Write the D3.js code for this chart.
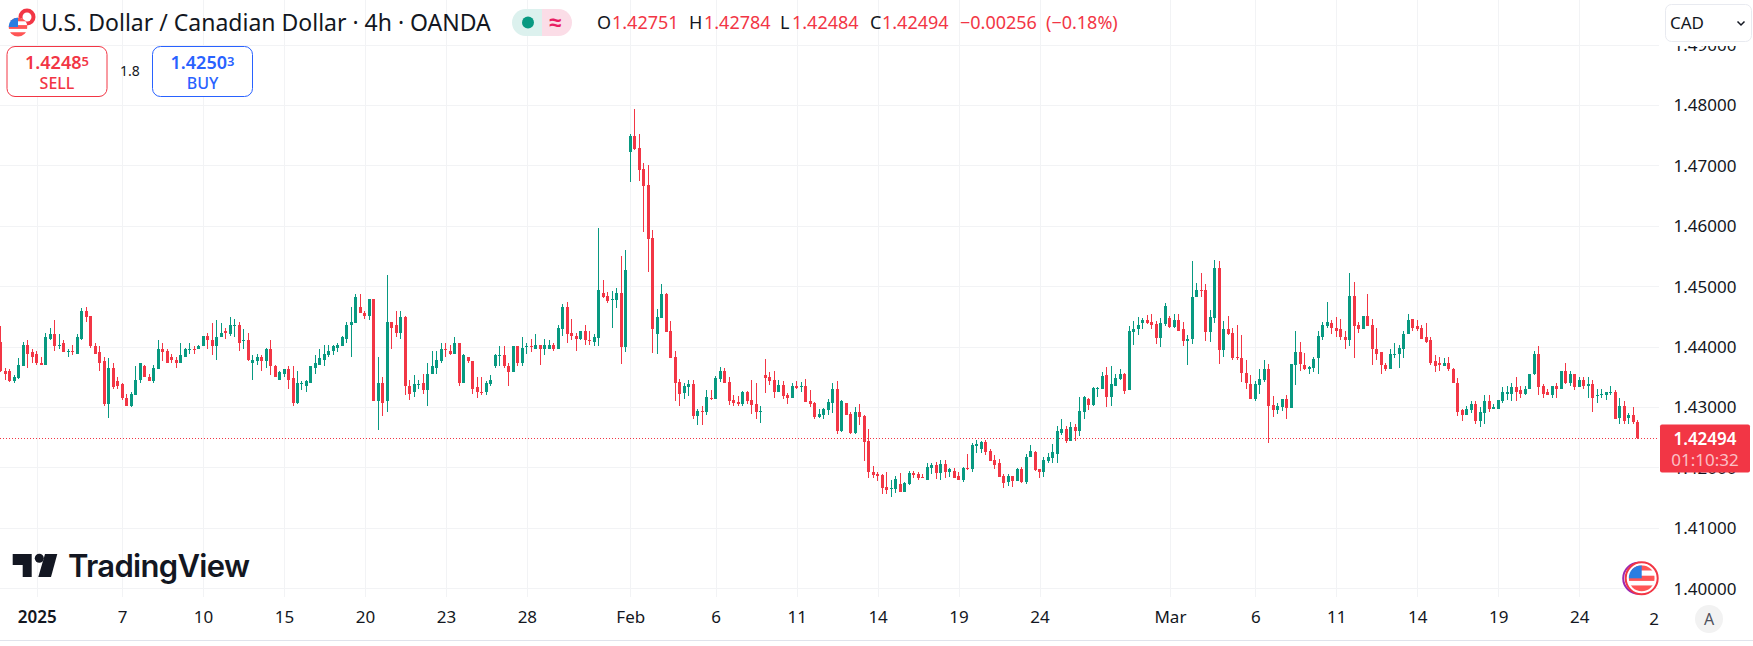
<!DOCTYPE html>
<html>
<head>
<meta charset="utf-8">
<script src="https://cdnjs.cloudflare.com/ajax/libs/d3/7.8.5/d3.min.js"></script>
<style>
html, body { margin: 0; padding: 0; background: #fff; }
svg { display: block; }
text { font-family: "Noto Sans", sans-serif; fill: #131722; }
</style>
</head>
<body>
<div id="chart"></div>
<script>
// candles, oldest first
var highs = [
1.4435,1.4366,1.4363,1.4353,1.4381,1.4409,1.4411,1.4397,1.4393,1.4383,1.4424,1.4432,1.4444,1.4422,1.4412,1.4397,1.4404,1.4421,1.4464,1.4466,
1.4452,1.4407,1.4401,1.4383,1.4381,1.4374,1.4351,1.4340,1.4323,1.4325,1.4368,1.4373,1.4371,1.4355,1.4371,1.4411,1.4407,1.4396,1.4388,1.4383,
1.4407,1.4399,1.4406,1.4402,1.4404,1.4419,1.4424,1.4439,1.4444,1.4439,1.4431,1.4449,1.4446,1.4442,1.4429,1.4424,1.4386,1.4389,1.4386,1.4399,
1.4412,1.4371,1.4360,1.4364,1.4368,1.4368,1.4360,1.4343,1.4345,1.4369,1.4386,1.4396,1.4404,1.4404,1.4404,1.4407,1.4419,1.4442,1.4466,1.4487,
1.4487,1.4459,1.4480,1.4479,1.4384,1.4351,1.4520,1.4442,1.4459,1.4459,1.4451,1.4346,1.4353,1.4346,1.4356,1.4373,1.4393,1.4393,1.4406,1.4406,
1.4404,1.4416,1.4406,1.4388,1.4384,1.4376,1.4351,1.4351,1.4343,1.4353,1.4388,1.4402,1.4402,1.4373,1.4401,1.4402,1.4417,1.4407,1.4414,1.4422,
1.4404,1.4414,1.4411,1.4406,1.4436,1.4472,1.4474,1.4447,1.4424,1.4427,1.4437,1.4426,1.4422,1.4597,1.4511,1.4491,1.4493,1.4498,1.4551,1.4561,
1.4753,1.4794,1.4753,1.4705,1.4701,1.4594,1.4463,1.4504,1.4489,1.4443,1.4393,1.4347,1.4340,1.4345,1.4345,1.4297,1.4302,1.4329,1.4329,1.4352,
1.4367,1.4365,1.4350,1.4320,1.4319,1.4327,1.4327,1.4345,1.4340,1.4302,1.4380,1.4359,1.4360,1.4345,1.4344,1.4324,1.4340,1.4344,1.4342,1.4347,
1.4329,1.4309,1.4297,1.4299,1.4314,1.4340,1.4344,1.4312,1.4307,1.4292,1.4301,1.4306,1.4287,1.4264,1.4203,1.4193,1.4190,1.4193,1.4180,1.4186,
1.4191,1.4176,1.4195,1.4195,1.4193,1.4190,1.4208,1.4208,1.4210,1.4213,1.4213,1.4200,1.4200,1.4193,1.4201,1.4223,1.4241,1.4246,1.4244,1.4246,
1.4231,1.4221,1.4214,1.4190,1.4190,1.4186,1.4200,1.4201,1.4223,1.4238,1.4228,1.4198,1.4218,1.4224,1.4239,1.4269,1.4281,1.4269,1.4276,1.4272,
1.4317,1.4319,1.4316,1.4334,1.4334,1.4359,1.4367,1.4369,1.4355,1.4364,1.4357,1.4435,1.4443,1.4450,1.4448,1.4453,1.4455,1.4443,1.4448,1.4473,
1.4452,1.4455,1.4455,1.4442,1.4420,1.4543,1.4506,1.4523,1.4505,1.4462,1.4544,1.4543,1.4443,1.4452,1.4432,1.4437,1.4420,1.4379,1.4354,1.4344,
1.4364,1.4379,1.4372,1.4319,1.4308,1.4314,1.4321,1.4372,1.4427,1.4409,1.4390,1.4369,1.4384,1.4426,1.4442,1.4474,1.4444,1.4449,1.4447,1.4427,
1.4523,1.4507,1.4441,1.4452,1.4487,1.4446,1.4432,1.4391,1.4374,1.4396,1.4406,1.4404,1.4426,1.4454,1.4447,1.4444,1.4436,1.4439,1.4416,1.4386,
1.4384,1.4381,1.4383,1.4366,1.4348,1.4297,1.4302,1.4310,1.4310,1.4300,1.4321,1.4320,1.4305,1.4313,1.4333,1.4336,1.4340,1.4351,1.4335,1.4336,
1.4356,1.4393,1.4402,1.4338,1.4330,1.4336,1.4340,1.4360,1.4374,1.4361,1.4356,1.4351,1.4351,1.4350,1.4346,1.4330,1.4330,1.4326,1.4335,1.4328,
1.4316,1.4310,1.4290,1.4300,1.42784
];
var lows = [
1.4358,1.4346,1.4342,1.4340,1.4347,1.4368,1.4366,1.4373,1.4371,1.4371,1.4371,1.4411,1.4394,1.4397,1.4391,1.4384,1.4386,1.4389,1.4411,1.4442,
1.4399,1.4389,1.4360,1.4302,1.4282,1.4330,1.4331,1.4313,1.4303,1.4300,1.4320,1.4340,1.4350,1.4343,1.4341,1.4364,1.4376,1.4374,1.4374,1.4366,
1.4373,1.4383,1.4389,1.4389,1.4396,1.4401,1.4396,1.4386,1.4378,1.4416,1.4414,1.4419,1.4416,1.4394,1.4397,1.4376,1.4345,1.4371,1.4360,1.4366,
1.4353,1.4350,1.4346,1.4350,1.4331,1.4303,1.4305,1.4328,1.4325,1.4341,1.4355,1.4371,1.4369,1.4384,1.4386,1.4391,1.4402,1.4407,1.4384,1.4439,
1.4456,1.4446,1.4444,1.4311,1.4263,1.4285,1.4292,1.4396,1.4417,1.4414,1.4320,1.4313,1.4318,1.4330,1.4323,1.4303,1.4355,1.4355,1.4374,1.4384,
1.4386,1.4388,1.4336,1.4340,1.4374,1.4323,1.4316,1.4321,1.4320,1.4336,1.4366,1.4368,1.4366,1.4335,1.4358,1.4368,1.4369,1.4389,1.4391,1.4396,
1.4371,1.4386,1.4396,1.4394,1.4396,1.4419,1.4406,1.4412,1.4394,1.4412,1.4404,1.4404,1.4401,1.4402,1.4481,1.4473,1.4431,1.4465,1.4372,1.4392,
1.4673,1.4726,1.4675,1.4590,1.4524,1.4390,1.4388,1.4448,1.4425,1.4382,1.4311,1.4302,1.4314,1.4319,1.4281,1.4271,1.4271,1.4287,1.4312,1.4314,
1.4342,1.4340,1.4304,1.4302,1.4302,1.4302,1.4306,1.4289,1.4281,1.4274,1.4324,1.4337,1.4316,1.4325,1.4314,1.4306,1.4316,1.4330,1.4325,1.4309,
1.4301,1.4281,1.4282,1.4281,1.4287,1.4291,1.4256,1.4259,1.4287,1.4256,1.4256,1.4271,1.4211,1.4183,1.4183,1.4178,1.4157,1.4157,1.4152,1.4158,
1.4160,1.4160,1.4171,1.4183,1.4180,1.4183,1.4180,1.4190,1.4181,1.4180,1.4183,1.4185,1.4183,1.4180,1.4176,1.4196,1.4193,1.4224,1.4224,1.4221,
1.4211,1.4198,1.4185,1.4166,1.4170,1.4168,1.4178,1.4175,1.4173,1.4218,1.4195,1.4183,1.4185,1.4208,1.4208,1.4208,1.4254,1.4241,1.4244,1.4244,
1.4253,1.4281,1.4296,1.4302,1.4317,1.4330,1.4301,1.4302,1.4335,1.4345,1.4322,1.4328,1.4404,1.4420,1.4430,1.4438,1.4430,1.4405,1.4400,1.4435,
1.4432,1.4432,1.4427,1.4402,1.4371,1.4405,1.4482,1.4482,1.4410,1.4409,1.4440,1.4372,1.4384,1.4420,1.4379,1.4379,1.4342,1.4331,1.4314,1.4311,
1.4323,1.4342,1.4241,1.4284,1.4289,1.4294,1.4281,1.4299,1.4337,1.4361,1.4362,1.4356,1.4359,1.4355,1.4411,1.4432,1.4422,1.4417,1.4411,1.4396,
1.4402,1.4381,1.4424,1.4429,1.4434,1.4371,1.4378,1.4355,1.4361,1.4363,1.4381,1.4366,1.4381,1.4421,1.4427,1.4427,1.4414,1.4407,1.4371,1.4358,
1.4360,1.4368,1.4361,1.4340,1.4285,1.4277,1.4287,1.4290,1.4272,1.4267,1.4273,1.4293,1.4297,1.4298,1.4308,1.4313,1.4311,1.4310,1.4316,1.4321,
1.4330,1.4353,1.4320,1.4315,1.4320,1.4316,1.4315,1.4330,1.4338,1.4335,1.4328,1.4333,1.4330,1.4316,1.4292,1.4308,1.4315,1.4313,1.4320,1.4280,
1.4272,1.4273,1.4273,1.4272,1.42484
];
var opens = [
1.4409,1.4361,1.4360,1.4343,1.4348,1.4369,1.4404,1.4391,1.4388,1.4374,1.4371,1.4414,1.4422,1.4403,1.4406,1.4393,1.4394,1.4389,1.4414,1.4459,
1.4451,1.4402,1.4391,1.4376,1.4305,1.4366,1.4343,1.4338,1.4316,1.4303,1.4321,1.4345,1.4368,1.4351,1.4343,1.4364,1.4396,1.4393,1.4383,1.4379,
1.4374,1.4384,1.4396,1.4397,1.4396,1.4401,1.4419,1.4412,1.4402,1.4416,1.4426,1.4422,1.4436,1.4437,1.4410,1.4411,1.4373,1.4376,1.4384,1.4376,
1.4397,1.4369,1.4346,1.4356,1.4364,1.4348,1.4308,1.4338,1.4335,1.4341,1.4366,1.4371,1.4379,1.4386,1.4393,1.4399,1.4402,1.4414,1.4436,1.4439,
1.4466,1.4457,1.4451,1.4479,1.4311,1.4340,1.4310,1.4442,1.4436,1.4424,1.4449,1.4336,1.4326,1.4337,1.4340,1.4328,1.4355,1.4366,1.4376,1.4396,
1.4394,1.4389,1.4406,1.4340,1.4383,1.4376,1.4333,1.4326,1.4325,1.4338,1.4368,1.4385,1.4386,1.4369,1.4358,1.4401,1.4374,1.4400,1.4401,1.4397,
1.4404,1.4397,1.4397,1.4404,1.4397,1.4429,1.4467,1.4424,1.4419,1.4414,1.4426,1.4412,1.4409,1.4415,1.4489,1.4484,1.4478,1.4478,1.4489,1.4400,
1.4723,1.4749,1.4730,1.4695,1.4668,1.4580,1.4421,1.4448,1.4488,1.4426,1.4383,1.4342,1.4324,1.4334,1.4339,1.4286,1.4294,1.4292,1.4316,1.4314,
1.4347,1.4360,1.4342,1.4312,1.4309,1.4306,1.4325,1.4312,1.4306,1.4293,1.4354,1.4350,1.4345,1.4325,1.4337,1.4320,1.4316,1.4335,1.4334,1.4335,
1.4311,1.4307,1.4284,1.4287,1.4296,1.4307,1.4330,1.4261,1.4307,1.4289,1.4258,1.4292,1.4286,1.4244,1.4193,1.4190,1.4188,1.4168,1.4165,1.4165,
1.4173,1.4160,1.4173,1.4191,1.4190,1.4185,1.4180,1.4200,1.4205,1.4191,1.4206,1.4193,1.4195,1.4186,1.4180,1.4200,1.4198,1.4236,1.4231,1.4243,
1.4228,1.4213,1.4208,1.4186,1.4176,1.4186,1.4178,1.4198,1.4176,1.4218,1.4226,1.4198,1.4193,1.4211,1.4216,1.4223,1.4258,1.4264,1.4244,1.4267,
1.4261,1.4292,1.4314,1.4304,1.4331,1.4330,1.4354,1.4317,1.4335,1.4347,1.4355,1.4328,1.4425,1.4429,1.4440,1.4445,1.4442,1.4438,1.4415,1.4438,
1.4448,1.4433,1.4445,1.4429,1.4410,1.4414,1.4482,1.4495,1.4494,1.4425,1.4448,1.4530,1.4395,1.4430,1.4424,1.4384,1.4382,1.4357,1.4339,1.4314,
1.4337,1.4346,1.4364,1.4304,1.4296,1.4301,1.4314,1.4299,1.4371,1.4392,1.4371,1.4364,1.4366,1.4381,1.4417,1.4434,1.4439,1.4432,1.4429,1.4417,
1.4412,1.4485,1.4437,1.4429,1.4452,1.4436,1.4397,1.4391,1.4371,1.4363,1.4388,1.4388,1.4397,1.4421,1.4446,1.4434,1.4431,1.4416,1.4411,1.4376,
1.4374,1.4369,1.4374,1.4364,1.4341,1.4295,1.4287,1.4295,1.4305,1.4278,1.4290,1.4311,1.4297,1.4298,1.4311,1.4323,1.4323,1.4333,1.4328,1.4323,
1.4330,1.4355,1.4388,1.4335,1.4325,1.4321,1.4335,1.4330,1.4360,1.4341,1.4356,1.4333,1.4346,1.4335,1.4338,1.4319,1.4322,1.4321,1.4325,1.4326,
1.4282,1.4302,1.4282,1.4288,1.42751
];
var closes = [
1.4360,1.4355,1.4343,1.4350,1.4371,1.4404,1.4389,1.4383,1.4373,1.4371,1.4416,1.4422,1.4402,1.4404,1.4391,1.4394,1.4391,1.4416,1.4459,1.4449,
1.4401,1.4389,1.4374,1.4305,1.4366,1.4333,1.4336,1.4315,1.4303,1.4323,1.4346,1.4373,1.4350,1.4343,1.4366,1.4396,1.4391,1.4374,1.4378,1.4374,
1.4386,1.4396,1.4397,1.4396,1.4402,1.4419,1.4411,1.4402,1.4417,1.4424,1.4424,1.4436,1.4437,1.4407,1.4411,1.4378,1.4378,1.4384,1.4376,1.4397,
1.4368,1.4350,1.4358,1.4364,1.4346,1.4308,1.4340,1.4341,1.4343,1.4369,1.4373,1.4381,1.4388,1.4394,1.4401,1.4404,1.4416,1.4437,1.4441,1.4482,
1.4456,1.4451,1.4479,1.4311,1.4340,1.4308,1.4442,1.4432,1.4424,1.4449,1.4335,1.4323,1.4338,1.4338,1.4328,1.4355,1.4368,1.4379,1.4396,1.4395,
1.4389,1.4406,1.4340,1.4386,1.4376,1.4331,1.4325,1.4325,1.4340,1.4345,1.4386,1.4386,1.4369,1.4358,1.4401,1.4374,1.4399,1.4401,1.4400,1.4404,
1.4397,1.4404,1.4404,1.4397,1.4431,1.4467,1.4421,1.4419,1.4414,1.4426,1.4411,1.4411,1.4417,1.4494,1.4483,1.4476,1.4479,1.4489,1.4400,1.4527,
1.4749,1.4728,1.4693,1.4667,1.4579,1.4430,1.4450,1.4488,1.4425,1.4382,1.4340,1.4322,1.4335,1.4339,1.4286,1.4294,1.4293,1.4317,1.4314,1.4349,
1.4360,1.4340,1.4311,1.4307,1.4306,1.4325,1.4311,1.4304,1.4292,1.4294,1.4349,1.4344,1.4325,1.4337,1.4319,1.4316,1.4335,1.4332,1.4335,1.4309,
1.4306,1.4284,1.4289,1.4297,1.4309,1.4330,1.4261,1.4311,1.4287,1.4258,1.4292,1.4284,1.4243,1.4193,1.4188,1.4186,1.4166,1.4163,1.4166,1.4181,
1.4160,1.4175,1.4191,1.4188,1.4183,1.4183,1.4201,1.4205,1.4191,1.4206,1.4193,1.4198,1.4183,1.4180,1.4200,1.4198,1.4238,1.4239,1.4243,1.4226,
1.4211,1.4205,1.4185,1.4175,1.4186,1.4178,1.4198,1.4176,1.4218,1.4228,1.4196,1.4193,1.4213,1.4218,1.4226,1.4261,1.4264,1.4244,1.4267,1.4261,
1.4294,1.4317,1.4304,1.4332,1.4332,1.4352,1.4317,1.4339,1.4349,1.4355,1.4327,1.4427,1.4430,1.4437,1.4445,1.4440,1.4437,1.4415,1.4440,1.4468,
1.4433,1.4445,1.4427,1.4410,1.4414,1.4482,1.4495,1.4494,1.4425,1.4450,1.4530,1.4395,1.4430,1.4422,1.4382,1.4382,1.4357,1.4341,1.4314,1.4339,
1.4347,1.4364,1.4303,1.4296,1.4303,1.4314,1.4299,1.4372,1.4392,1.4372,1.4364,1.4367,1.4380,1.4419,1.4436,1.4442,1.4431,1.4427,1.4416,1.4412,
1.4485,1.4434,1.4429,1.4452,1.4434,1.4397,1.4389,1.4371,1.4363,1.4389,1.4389,1.4399,1.4422,1.4444,1.4432,1.4429,1.4414,1.4409,1.4374,1.4369,
1.4371,1.4374,1.4363,1.4340,1.4293,1.4288,1.4297,1.4305,1.4278,1.4292,1.4311,1.4298,1.4300,1.4313,1.4325,1.4325,1.4333,1.4326,1.4323,1.4331,
1.4356,1.4388,1.4333,1.4323,1.4321,1.4335,1.4330,1.4360,1.4341,1.4356,1.4333,1.4346,1.4335,1.4338,1.4316,1.4320,1.4323,1.4326,1.4326,1.4280,
1.4302,1.4278,1.4288,1.4275,1.42494
];
var priceTicks = [1.40, 1.41, 1.42, 1.43, 1.44, 1.45, 1.46, 1.47, 1.48, 1.49];
var timeIndex = [8, 27, 45, 63, 81, 99, 117, 140, 159, 177, 195, 213, 231, 260, 279, 297, 315, 333, 351];
var timeLabels = ["2025", "7", "10", "15", "20", "23", "28", "Feb", "6", "11", "14", "19", "24", "Mar", "6", "11", "14", "19", "24"];
var lastPrice = 1.42494;

var UP = "#089981", DOWN = "#f23645", BLUE = "#2962ff", GRID = "#f2f3f5";
var WIDTH = 1753, HEIGHT = 646, PLOT_RIGHT = 1659, PLOT_BOTTOM = 597;

window.onload = function()
{
    main();
};

function main()
{
    var svg = d3.select("#chart").append("svg")
            .attr("width", WIDTH)
            .attr("height", HEIGHT),
        x = d3.scaleLinear().domain([0, 364]).range([0.7, 1637.6]),
        y = d3.scaleLinear().domain([1.40, 1.49]).range([588.6, 45]);

    _drawGrid(svg, x, y);
    _drawCandles(svg, x, y);
    _drawAxes(svg, x, y);
    _drawLogo(svg);
    _drawHeader(svg);
    _drawLastPrice(svg, y);
    _drawFlag(svg, 1641.7, 578.3);
}

function _drawGrid(svg, x, y)
{
    var g = svg.append("g").attr("shape-rendering", "crispEdges");
    g.selectAll(".h").data(priceTicks).enter().append("line")
        .attr("x1", 0).attr("x2", PLOT_RIGHT)
        .attr("y1", function(d) { return Math.floor(y(d)) + 0.5; })
        .attr("y2", function(d) { return Math.floor(y(d)) + 0.5; })
        .attr("stroke", GRID);
    g.selectAll(".v").data(timeIndex).enter().append("line")
        .attr("x1", function(d) { return Math.round(x(d)) + 0.5; })
        .attr("x2", function(d) { return Math.round(x(d)) + 0.5; })
        .attr("y1", 0).attr("y2", PLOT_BOTTOM)
        .attr("stroke", GRID);
    // dotted last price line
    svg.append("line")
        .attr("x1", 0).attr("x2", PLOT_RIGHT)
        .attr("y1", Math.round(y(lastPrice)) + 0.5)
        .attr("y2", Math.round(y(lastPrice)) + 0.5)
        .attr("stroke", DOWN)
        .attr("stroke-dasharray", "1 2");
}

function _drawCandles(svg, x, y)
{
    var rows = opens.map(function(o, i)
        {
            return { i: i, o: o, h: highs[i], l: lows[i], c: closes[i] };
        }),
        g = svg.append("g").attr("shape-rendering", "crispEdges"),
        candle = g.selectAll("g").data(rows).enter().append("g")
            .attr("fill", function(d) { return d.c >= d.o ? UP : DOWN; });

    // wick, one pixel
    candle.append("rect")
        .attr("x", function(d) { return Math.floor(x(d.i)); })
        .attr("width", 1)
        .attr("y", function(d) { return Math.round(y(d.h)); })
        .attr("height", function(d) { return Math.max(1, Math.round(y(d.l)) - Math.round(y(d.h))); });
    // body, three pixels
    candle.append("rect")
        .attr("x", function(d) { return Math.floor(x(d.i)) - 1; })
        .attr("width", 3)
        .attr("y", function(d) { return Math.round(y(Math.max(d.o, d.c))); })
        .attr("height", function(d)
        {
            return Math.max(1, Math.round(y(Math.min(d.o, d.c))) - Math.round(y(Math.max(d.o, d.c))));
        });
}

function _drawAxes(svg, x, y)
{
    var priceAxis = d3.axisRight(y)
            .tickValues(priceTicks)
            .tickFormat(d3.format(".5f"))
            .tickSize(0)
            .tickPadding(0),
        timeAxis = d3.axisBottom(x)
            .tickValues(timeIndex)
            .tickFormat(function(d) { return timeLabels[timeIndex.indexOf(d)]; })
            .tickSize(0)
            .tickPadding(0),
        pg = svg.append("g").attr("transform", "translate(1705,0)").call(priceAxis),
        tg = svg.append("g").attr("transform", "translate(0,606)").call(timeAxis);

    pg.select(".domain").remove();
    tg.select(".domain").remove();
    pg.selectAll("text")
        .attr("text-anchor", "middle")
        .style("font-size", "17px")
        .style("font-family", "'Noto Sans'")
        .style("fill", "#131722");
    tg.selectAll("text")
        .attr("y", 0)
        .attr("dy", "1em")
        .style("font-size", "17px")
        .style("font-family", "'Noto Sans'")
        .style("fill", "#131722")
        .style("font-weight", function(d) { return d == 8 ? 600 : 400; });

    // the month tail: "2" of the next month sits on the plot edge
    svg.append("text")
        .attr("x", 1659).attr("y", 625)
        .attr("text-anchor", "end")
        .style("font-size", "17px")
        .text("2");

    // bottom strip line
    svg.append("line")
        .attr("x1", 0).attr("x2", WIDTH)
        .attr("y1", 640.5).attr("y2", 640.5)
        .attr("stroke", "#e0e3eb");

    // auto button
    svg.append("circle")
        .attr("cx", 1709).attr("cy", 619).attr("r", 14)
        .attr("fill", "#f2f2f2");
    svg.append("text")
        .attr("x", 1709).attr("y", 625)
        .attr("text-anchor", "middle")
        .style("font-size", "16px")
        .style("fill", "#50535e")
        .text("A");
}

function _drawLogo(svg)
{
    var g = svg.append("g").attr("fill", "#131722");
    g.append("path").attr("d", "M12.7 554H31.7V577H22.7V565H12.7Z");
    g.append("circle").attr("cx", 39.3).attr("cy", 558.3).attr("r", 4.5);
    g.append("path").attr("d", "M45 554H57.3L51 577H38.3Z");
    g.append("text")
        .attr("x", 68).attr("y", 576.5)
        .style("font-family", "Inter")
        .style("font-weight", 600)
        .style("font-size", "31px")
        .attr("textLength", 182)
        .text("TradingView");
}

function _drawHeader(svg)
{
    // white mask behind the currency button, hides the top of 1.49000
    svg.append("rect").attr("x", 1660).attr("y", 0).attr("width", 93).attr("height", 46).attr("fill", "#fff");
    svg.append("rect")
        .attr("x", 1665.5).attr("y", 4.5).attr("width", 86).attr("height", 37).attr("rx", 6)
        .attr("fill", "#fff").attr("stroke", "#e8eaf0");
    svg.append("text").attr("x", 1670).attr("y", 29).style("font-size", "17px").text("CAD");
    svg.append("path")
        .attr("d", "M1737.5 21.5L1741 25L1744.5 21.5")
        .attr("fill", "none").attr("stroke", "#131722").attr("stroke-width", 1.5);

    // pair icon
    svg.append("circle").attr("cx", 27).attr("cy", 17).attr("r", 8.5).attr("fill", DOWN);
    svg.append("circle").attr("cx", 27).attr("cy", 17).attr("r", 4.5).attr("fill", "#fff");
    _smallFlag(svg, 18, 27, 9.5);

    svg.append("text").attr("x", 41).attr("y", 31)
        .style("font-size", "23px")
        .text("U.S. Dollar / Canadian Dollar · 4h · OANDA");

    // market status pill
    svg.append("path").attr("d", "M542 9H525.5A13.5 13.5 0 0 0 525.5 36H542Z").attr("fill", "#dcf1ee");
    svg.append("path").attr("d", "M542 9H558.5A13.5 13.5 0 0 1 558.5 36H542Z").attr("fill", "#fbdde7");
    svg.append("circle").attr("cx", 528).attr("cy", 22.5).attr("r", 6).attr("fill", UP);
    svg.append("text").attr("x", 555).attr("y", 30).attr("text-anchor", "middle")
        .style("font-size", "22px").style("font-weight", 700).style("fill", "#e91e63").text("≈");

    // OHLC legend
    var legend = [
        [597, "O", "#131722"], [612, "1.42751", DOWN],
        [689, "H", "#131722"], [704, "1.42784", DOWN],
        [780, "L", "#131722"], [792, "1.42484", DOWN],
        [870, "C", "#131722"], [882, "1.42494", DOWN],
        [960, "−0.00256", DOWN], [1046, "(−0.18%)", DOWN]
    ];
    svg.selectAll(".legend").data(legend).enter().append("text")
        .attr("x", function(d) { return d[0]; })
        .attr("y", 29)
        .style("font-size", "18px")
        .style("fill", function(d) { return d[2]; })
        .text(function(d) { return d[1]; });

    _tradeButton(svg, 7, 100, "1.4248", "5", "SELL", DOWN);
    _tradeButton(svg, 152.5, 100, "1.4250", "3", "BUY", BLUE);
    svg.append("text").attr("x", 130).attr("y", 76).attr("text-anchor", "middle")
        .style("font-size", "14px").text("1.8");
}

function _tradeButton(svg, left, width, main, small, label, colour)
{
    svg.append("rect")
        .attr("x", left).attr("y", 46.5).attr("width", width).attr("height", 50).attr("rx", 8)
        .attr("fill", "#fff").attr("stroke", colour);
    var t = svg.append("text")
        .attr("x", left + width / 2).attr("y", 69)
        .attr("text-anchor", "middle")
        .style("font-size", "18px").style("font-weight", 600).style("fill", colour)
        .text(main);
    t.append("tspan").attr("dy", -3).style("font-size", "13px").style("fill", colour).text(small);
    svg.append("text")
        .attr("x", left + width / 2).attr("y", 89)
        .attr("text-anchor", "middle")
        .style("font-size", "16px").style("font-weight", 500).style("fill", colour)
        .text(label);
}

function _drawLastPrice(svg, y)
{
    svg.append("rect")
        .attr("x", 1660).attr("y", 424.5).attr("width", 90).attr("height", 48).attr("rx", 2)
        .attr("fill", DOWN);
    svg.append("text").attr("x", 1705).attr("y", 445)
        .attr("text-anchor", "middle")
        .style("font-size", "17px").style("font-weight", 600).style("fill", "#fff")
        .text(d3.format(".5f")(lastPrice));
    svg.append("text").attr("x", 1705).attr("y", 466)
        .attr("text-anchor", "middle")
        .style("font-size", "17px").style("fill", "#fff").style("fill-opacity", 0.7)
        .text("01:10:32");
}

// stars and stripes in a disc, used by both icons
function _smallFlag(svg, cx, cy, r)
{
    var id = "flag" + Math.round(cx),
        g = svg.append("g");
    g.append("clipPath").attr("id", id).append("circle")
        .attr("cx", cx).attr("cy", cy).attr("r", r);
    var f = g.append("g").attr("clip-path", "url(#" + id + ")");
    f.append("rect").attr("x", cx - r).attr("y", cy - r).attr("width", 2 * r).attr("height", 2 * r).attr("fill", "#fff");
    f.append("rect").attr("x", cx - r).attr("y", cy - 0.2 * r).attr("width", 2 * r).attr("height", 0.4 * r).attr("fill", "#f55");
    f.append("rect").attr("x", cx - r).attr("y", cy + 0.55 * r).attr("width", 2 * r).attr("height", 0.5 * r).attr("fill", "#f55");
    f.append("rect").attr("x", cx - r).attr("y", cy - r).attr("width", 2 * r).attr("height", 0.4 * r).attr("fill", "#f55");
    f.append("rect").attr("x", cx - r).attr("y", cy - r).attr("width", r).attr("height", r).attr("fill", "#2a7de1");
}

function _drawFlag(svg, cx, cy)
{
    svg.append("circle").attr("cx", cx - 3).attr("cy", cy).attr("r", 15.5)
        .attr("fill", "#fff").attr("stroke", "#9c27b0").attr("stroke-width", 2);
    svg.append("circle").attr("cx", cx).attr("cy", cy).attr("r", 16)
        .attr("fill", "#fff").attr("stroke", DOWN).attr("stroke-width", 2);
    _smallFlag(svg, cx, cy, 13);
}
</script>
</body>
</html>
